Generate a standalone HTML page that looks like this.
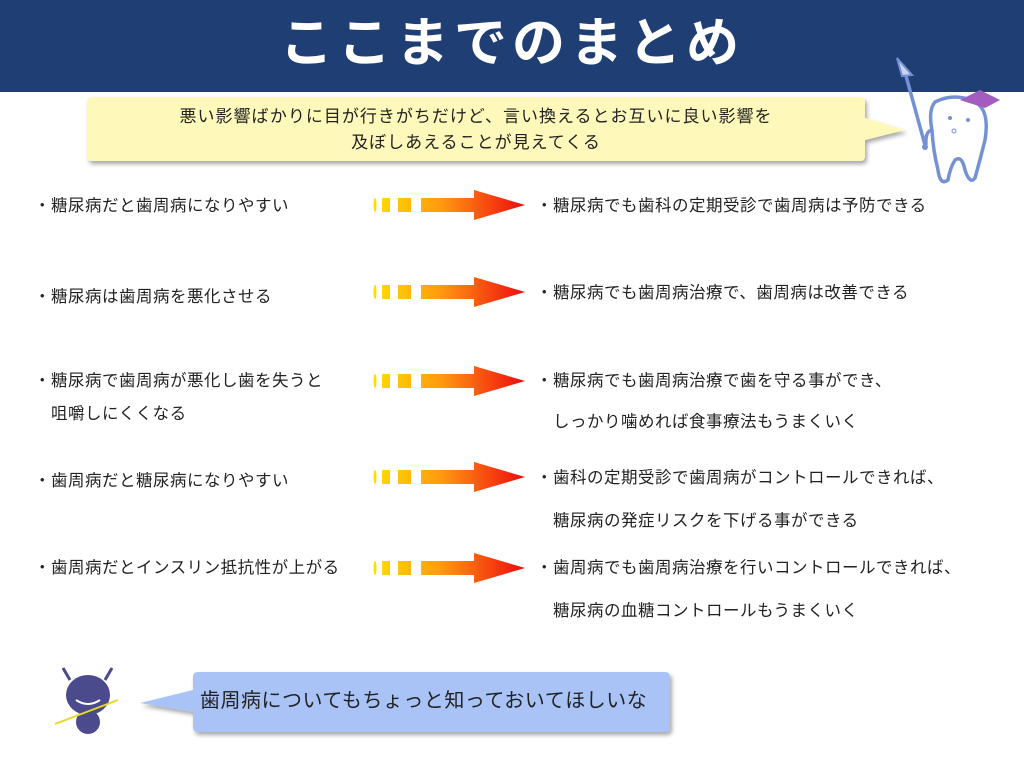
<!DOCTYPE html>
<html><head><meta charset="utf-8"><style>
body{margin:0;width:1024px;height:768px;overflow:hidden;background:#fff;position:relative;font-family:"Liberation Sans","Noto Sans CJK JP",sans-serif;color:#222}
.hd{position:absolute;left:0;top:0;width:1024px;height:92px;background:#1f3e73}
.title{position:absolute;left:0;top:8px;width:1024px;text-align:center;color:#fff;font-size:53px;font-weight:bold;letter-spacing:5px;line-height:72px}
.t{position:absolute;font-size:16.5px;white-space:nowrap;line-height:20px;letter-spacing:0.5px}
.arr{position:absolute;left:362px;width:165px;height:34px}
</style></head><body>
<div class="hd"></div>
<div class="title">ここまでのまとめ</div>
<svg style="position:absolute;left:0;top:0" width="1024" height="768">
<defs>
<filter id="sh"><feDropShadow dx="2" dy="3" stdDeviation="2" flood-color="#000" flood-opacity="0.35"/></filter>
</defs>
<path d="M92,97 H860 Q865,97 865,102 V118 L905,130 L865,140 V156 Q865,161 860,161 H92 Q87,161 87,156 V102 Q87,97 92,97Z" fill="#fef9bb" filter="url(#sh)"/>
<path d="M198,672 H665 Q670,672 670,677 V727 Q670,732 665,732 H198 Q193,732 193,727 V712 L140,703 L193,690 V677 Q193,672 198,672Z" fill="#a9c3f7" filter="url(#sh)"/>
<g fill="none" stroke="#7491d6" stroke-width="3.5">
<line x1="925" y1="145" x2="903" y2="65"/>
<path d="M935,102 Q955,92 975,102 Q990,110 985,140 Q980,160 975,178 Q970,185 965,170 Q962,155 955,160 Q950,168 948,180 Q940,186 938,170 Q933,150 932,130 Q928,110 935,102Z"/>
<path d="M933,130 Q925,130 926,145"/>
</g>
<polygon points="897,58 912,75 902,76" fill="#c8d4f0" stroke="#7491d6" stroke-width="2"/>
<circle cx="925" cy="147" r="3" fill="#7491d6"/>
<polygon points="960,100 980,90 1000,100 985,108" fill="#a35cc0"/>
<circle cx="950" cy="118" r="2" fill="#7491d6"/><circle cx="968" cy="120" r="2" fill="#7491d6"/><circle cx="954" cy="131" r="2" fill="none" stroke="#7491d6"/>
<g>
<ellipse cx="88" cy="695" rx="22" ry="20" fill="#4a4a8c"/>
<path d="M70,680 L63,668 M105,680 L112,668" stroke="#4a4a8c" stroke-width="3"/>
<ellipse cx="88" cy="722" rx="12" ry="12" fill="#4a4a8c"/>
<line x1="55" y1="724" x2="118" y2="700" stroke="#e8d820" stroke-width="2"/>
<path d="M76,700 Q88,708 100,700" stroke="#fff" stroke-width="2" fill="none"/>
</g>
</svg>
<div class="t" style="left:87px;top:104px;width:778px;text-align:center;line-height:26px;font-size:17px;letter-spacing:1px">悪い影響ばかりに目が行きがちだけど、言い換えるとお互いに良い影響を<br>及ぼしあえることが見えてくる</div>

<div class="t" style="left:34px;top:196px">・糖尿病だと歯周病になりやすい</div>
<div class="t" style="left:34px;top:287px">・糖尿病は歯周病を悪化させる</div>
<div class="t" style="left:34px;top:371px">・糖尿病で歯周病が悪化し歯を失うと</div>
<div class="t" style="left:51px;top:404px">咀嚼しにくくなる</div>
<div class="t" style="left:34px;top:471px">・歯周病だと糖尿病になりやすい</div>
<div class="t" style="left:34px;top:558px">・歯周病だとインスリン抵抗性が上がる</div>

<div class="t" style="left:536px;top:196px">・糖尿病でも歯科の定期受診で歯周病は予防できる</div>
<div class="t" style="left:536px;top:283px">・糖尿病でも歯周病治療で、歯周病は改善できる</div>
<div class="t" style="left:536px;top:371px">・糖尿病でも歯周病治療で歯を守る事ができ、</div>
<div class="t" style="left:553px;top:412px">しっかり噛めれば食事療法もうまくいく</div>
<div class="t" style="left:536px;top:468px">・歯科の定期受診で歯周病がコントロールできれば、</div>
<div class="t" style="left:553px;top:511px">糖尿病の発症リスクを下げる事ができる</div>
<div class="t" style="left:536px;top:558px">・歯周病でも歯周病治療を行いコントロールできれば、</div>
<div class="t" style="left:553px;top:601px">糖尿病の血糖コントロールもうまくいく</div>

<div class="t" style="left:200px;top:689px;font-size:20px;line-height:24px">歯周病についてもちょっと知っておいてほしいな</div>

<svg width="0" height="0" style="position:absolute"><defs><linearGradient id="g" gradientUnits="userSpaceOnUse" x1="10" y1="0" x2="163" y2="0"><stop offset="0" stop-color="#ffe000"/><stop offset="0.45" stop-color="#ff9a10"/><stop offset="1" stop-color="#ee0a10"/></linearGradient>
<g id="a"><ellipse cx="13" cy="17" rx="1.5" ry="7"/><rect x="20" y="10" width="8" height="14"/><rect x="36" y="10" width="13" height="14"/><rect x="59" y="10" width="53" height="14"/><polygon points="112,2 163,17 112,32"/></g></defs></svg>
<svg class="arr" style="top:188px" viewBox="0 0 165 34"><use href="#a" fill="url(#g)"/></svg>
<svg class="arr" style="top:275px" viewBox="0 0 165 34"><use href="#a" fill="url(#g)"/></svg>
<svg class="arr" style="top:364px" viewBox="0 0 165 34"><use href="#a" fill="url(#g)"/></svg>
<svg class="arr" style="top:460px" viewBox="0 0 165 34"><use href="#a" fill="url(#g)"/></svg>
<svg class="arr" style="top:551px" viewBox="0 0 165 34"><use href="#a" fill="url(#g)"/></svg>
</body></html>
